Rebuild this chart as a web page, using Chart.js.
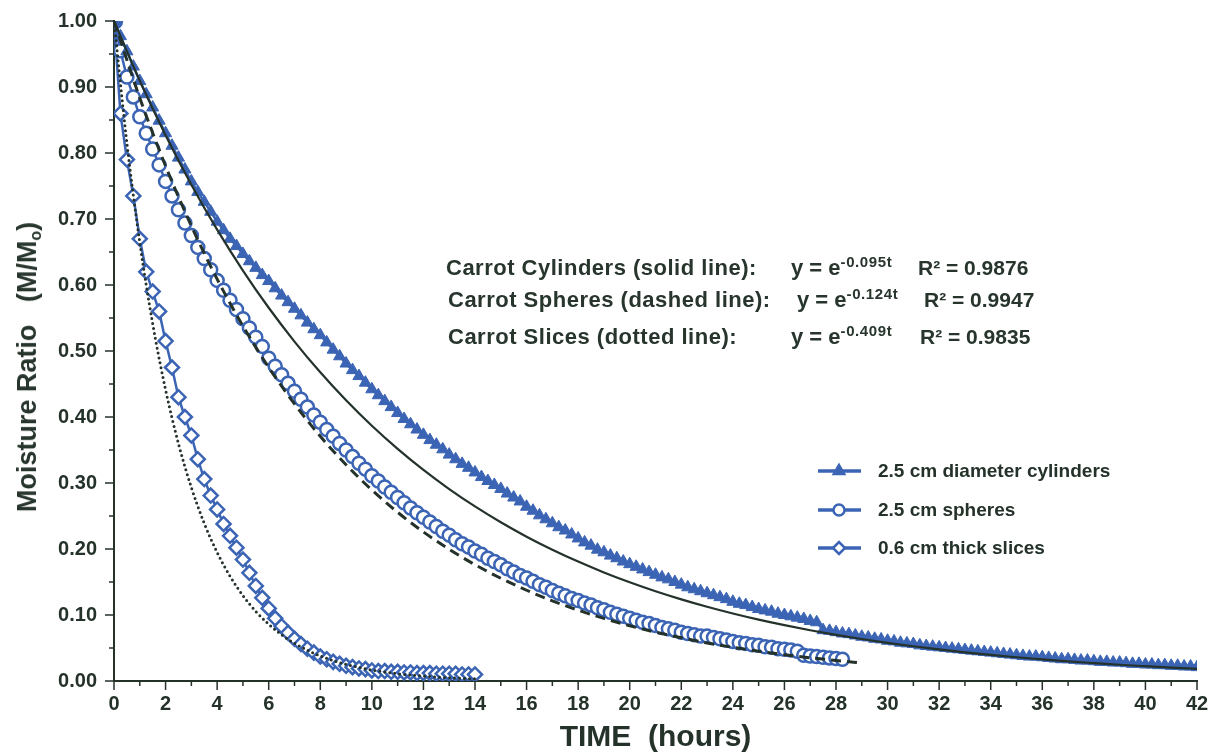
<!DOCTYPE html>
<html>
<head>
<meta charset="utf-8">
<title>Carrot drying curves</title>
<script src="https://cdn.jsdelivr.net/npm/chart.js@4.4.1/dist/chart.umd.min.js"></script>
<style>
  html, body { margin: 0; padding: 0; background: #fff; }
  #wrap { position: relative; width: 1215px; height: 753px; }
  #myChart { position: absolute; left: 0; top: 0; }
  .txt { position: absolute; font-family: "Liberation Sans", Arial, sans-serif; font-weight: bold; color: #27352d; white-space: nowrap; line-height: 24px; }
  .lbl { font-size: 22px; letter-spacing: 0.5px; }
  .eq { font-size: 22px; }
  .eq sup { font-size: 15px; vertical-align: 8px; line-height: 0; letter-spacing: 0.6px; }
  .num { font-size: 21px; }
  #ytitle { font-size: 27px; left: 27px; top: 367px; transform: translate(-50%, -50%) rotate(-90deg); }
  #ytitle sub { font-size: 16px; vertical-align: -5px; line-height: 0; }
</style>
</head>
<body>
<div id="wrap">
  <canvas id="myChart" width="1215" height="753"></canvas>

  <div class="txt" id="ytitle">Moisture Ratio &nbsp;&nbsp;(M/M<sub>o</sub>)</div>

  <div class="txt lbl" style="left:446px; top:256px;">Carrot Cylinders (solid line):</div>
  <div class="txt eq" style="left:791px; top:256px;">y = e<sup>-0.095t</sup></div>
  <div class="txt num" style="left:918px; top:256px;">R² = 0.9876</div>

  <div class="txt lbl" style="left:448px; top:288px;">Carrot Spheres (dashed line):</div>
  <div class="txt eq" style="left:797px; top:288px;">y = e<sup>-0.124t</sup></div>
  <div class="txt num" style="left:924px; top:288px;">R² = 0.9947</div>

  <div class="txt lbl" style="left:448px; top:325px;">Carrot Slices (dotted line):</div>
  <div class="txt eq" style="left:791px; top:325px;">y = e<sup>-0.409t</sup></div>
  <div class="txt num" style="left:920px; top:325px;">R² = 0.9835</div>
</div>

<script>
// readings taken every 15 minutes
const sampleStep = 0.25;

// 2.5 cm diameter cylinders, moisture ratio M/Mo, 0 - 42 h
const cylinderMR = [
  1.000, 0.977, 0.954, 0.931, 0.909, 0.889, 0.869, 0.849,
  0.830, 0.811, 0.793, 0.775, 0.757, 0.741, 0.726, 0.711,
  0.696, 0.683, 0.670, 0.659, 0.647, 0.636, 0.626, 0.615,
  0.606, 0.595, 0.584, 0.574, 0.564, 0.554, 0.543, 0.533,
  0.524, 0.513, 0.502, 0.492, 0.481, 0.471, 0.462, 0.452,
  0.442, 0.433, 0.424, 0.415, 0.406, 0.397, 0.389, 0.381,
  0.373, 0.365, 0.358, 0.351, 0.343, 0.336, 0.329, 0.323,
  0.316, 0.309, 0.303, 0.297, 0.291, 0.284, 0.278, 0.272,
  0.264, 0.258, 0.251, 0.245, 0.239, 0.233, 0.228, 0.222,
  0.216, 0.210, 0.205, 0.199, 0.195, 0.190, 0.186, 0.181,
  0.177, 0.173, 0.169, 0.165, 0.161, 0.157, 0.154, 0.150,
  0.146, 0.142, 0.139, 0.136, 0.133, 0.130, 0.127, 0.124,
  0.120, 0.117, 0.115, 0.112, 0.109, 0.107, 0.105, 0.102,
  0.100, 0.098, 0.096, 0.094, 0.091, 0.089, 0.077, 0.076,
  0.074, 0.072, 0.071, 0.069, 0.067, 0.066, 0.064, 0.063,
  0.061, 0.060, 0.058, 0.057, 0.056, 0.054, 0.053, 0.052,
  0.051, 0.050, 0.049, 0.048, 0.047, 0.046, 0.045, 0.044,
  0.043, 0.042, 0.041, 0.040, 0.039, 0.038, 0.037, 0.037,
  0.036, 0.035, 0.034, 0.033, 0.033, 0.032, 0.031, 0.031,
  0.030, 0.029, 0.029, 0.028, 0.028, 0.027, 0.026, 0.026,
  0.025, 0.025, 0.024, 0.024, 0.023, 0.023, 0.022, 0.022,
  0.021
];

// 2.5 cm spheres, 0 - 28.25 h
const sphereMR = [
  1.000, 0.955, 0.915, 0.885, 0.855, 0.830, 0.806, 0.782,
  0.757, 0.735, 0.714, 0.694, 0.675, 0.657, 0.640, 0.623,
  0.607, 0.592, 0.577, 0.563, 0.549, 0.535, 0.521, 0.507,
  0.489, 0.477, 0.464, 0.451, 0.439, 0.427, 0.415, 0.403,
  0.392, 0.381, 0.371, 0.360, 0.350, 0.340, 0.330, 0.321,
  0.311, 0.303, 0.294, 0.286, 0.278, 0.270, 0.262, 0.255,
  0.248, 0.241, 0.234, 0.227, 0.221, 0.214, 0.208, 0.203,
  0.197, 0.192, 0.186, 0.181, 0.176, 0.170, 0.165, 0.160,
  0.156, 0.151, 0.146, 0.142, 0.137, 0.133, 0.129, 0.125,
  0.122, 0.118, 0.115, 0.111, 0.108, 0.104, 0.101, 0.098,
  0.095, 0.092, 0.089, 0.087, 0.084, 0.081, 0.079, 0.077,
  0.074, 0.072, 0.070, 0.068, 0.068, 0.066, 0.064, 0.062,
  0.060, 0.058, 0.057, 0.055, 0.054, 0.052, 0.051, 0.049,
  0.048, 0.047, 0.045, 0.039, 0.038, 0.037, 0.036, 0.035,
  0.034, 0.033
];

// 0.6 cm thick slices, 0 - 14 h
const sliceMR = [
  1.000, 0.860, 0.790, 0.735, 0.670, 0.620, 0.590, 0.560,
  0.515, 0.475, 0.430, 0.400, 0.372, 0.336, 0.306, 0.281,
  0.260, 0.238, 0.220, 0.202, 0.184, 0.164, 0.144, 0.126,
  0.110, 0.095, 0.083, 0.073, 0.064, 0.056, 0.049, 0.043,
  0.037, 0.033, 0.029, 0.026, 0.023, 0.021, 0.019, 0.018,
  0.016, 0.015, 0.015, 0.014, 0.014, 0.013, 0.013, 0.012,
  0.012, 0.012, 0.011, 0.011, 0.011, 0.011, 0.010, 0.010,
  0.010
];

// fitted curves y = e^(-kt)
const cylinderFitHours = 1;   // hourly values
const cylinderFit = [
  1.0000, 0.9094, 0.8270, 0.7520, 0.6839, 0.6219, 0.5655, 0.5143, 0.4677, 0.4253,
  0.3867, 0.3517, 0.3198, 0.2908, 0.2645, 0.2405, 0.2187, 0.1989, 0.1809, 0.1645,
  0.1496, 0.1360, 0.1237, 0.1125, 0.1023, 0.0930, 0.0846, 0.0769, 0.0699, 0.0636,
  0.0578, 0.0526, 0.0478, 0.0435, 0.0396, 0.0360, 0.0327, 0.0297, 0.0271, 0.0246,
  0.0224, 0.0203, 0.0185
];
const sphereFitHours = 1;
const sphereFit = [
  1.0000, 0.8834, 0.7804, 0.6894, 0.6090, 0.5379, 0.4752, 0.4198, 0.3708, 0.3276,
  0.2894, 0.2556, 0.2258, 0.1995, 0.1762, 0.1557, 0.1375, 0.1215, 0.1073, 0.0948,
  0.0837, 0.0740, 0.0654, 0.0577, 0.0510, 0.0451, 0.0398, 0.0352, 0.0311, 0.0274
];
const sliceFitHours = 0.5;
const sliceFit = [
  1.0000, 0.8151, 0.6643, 0.5415, 0.4413, 0.3597, 0.2932, 0.2390, 0.1948, 0.1588,
  0.1294, 0.1055, 0.0860, 0.0701, 0.0571, 0.0466, 0.0379, 0.0309, 0.0252, 0.0206,
  0.0167, 0.0137, 0.0111, 0.0091, 0.0074, 0.0060, 0.0049, 0.0040, 0.0033
];

const legendLabels = ['2.5 cm diameter cylinders', '2.5 cm spheres', '0.6 cm thick slices'];

const blue = '#3b64b4';
const ink = '#24322a';
const font = '"Liberation Sans", Arial, sans-serif';

function toPoints(values, step) {
  return values.map((v, i) => ({ x: i * step, y: v }));
}

// legend block drawn inside the plot, right side
const sideLegend = {
  id: 'sideLegend',
  afterDatasetsDraw(chart) {
    const ctx = chart.ctx;
    const rows = [
      { y: 471, style: 'triangle', fill: blue, r: 6 },
      { y: 510, style: 'circle', fill: '#fff', r: 5.5 },
      { y: 548, style: 'rectRot', fill: '#fff', r: 6 }
    ];
    ctx.save();
    rows.forEach((r, i) => {
      ctx.strokeStyle = blue;
      ctx.lineWidth = 3.5;
      ctx.beginPath();
      ctx.moveTo(818, r.y);
      ctx.lineTo(861, r.y);
      ctx.stroke();
      ctx.fillStyle = r.fill;
      ctx.lineWidth = 2.5;
      Chart.helpers.drawPoint(ctx, { pointStyle: r.style, radius: r.r, rotation: 0, borderWidth: 2.5 }, 839, r.y);
      ctx.fillStyle = ink;
      ctx.font = 'bold 19px ' + font;
      ctx.textBaseline = 'middle';
      ctx.fillText(legendLabels[i], 878, r.y + 1);
    });
    ctx.restore();
  }
};

// major ticks every 2 h / 0.10, shorter minor ticks between them
const axisTicks = {
  id: 'axisTicks',
  afterDraw(chart) {
    const { ctx, chartArea, scales } = chart;
    ctx.save();
    ctx.strokeStyle = ink;
    ctx.lineWidth = 1.5;
    scales.x.ticks.forEach((t) => {
      const px = scales.x.getPixelForValue(t.value);
      const len = t.value % 2 === 0 ? 9 : 5;
      ctx.beginPath();
      ctx.moveTo(px, chartArea.bottom);
      ctx.lineTo(px, chartArea.bottom + len);
      ctx.stroke();
    });
    scales.y.ticks.forEach((t) => {
      const py = scales.y.getPixelForValue(t.value);
      const len = Math.round(t.value * 100) % 10 === 0 ? 9 : 5;
      ctx.beginPath();
      ctx.moveTo(chartArea.left, py);
      ctx.lineTo(chartArea.left - len, py);
      ctx.stroke();
    });
    ctx.restore();
  }
};

const ctx = document.getElementById('myChart');

const myChart = new Chart(ctx, {
  type: 'line',
  data: {
    datasets: [
      {
        label: 'cylinders fit',
        data: toPoints(cylinderFit, cylinderFitHours),
        borderColor: ink,
        borderWidth: 2.2,
        pointRadius: 0,
        cubicInterpolationMode: 'monotone',
        order: 0
      },
      {
        label: 'spheres fit',
        data: toPoints(sphereFit, sphereFitHours),
        borderColor: ink,
        borderWidth: 3,
        borderDash: [10, 6],
        pointRadius: 0,
        cubicInterpolationMode: 'monotone',
        order: 0
      },
      {
        label: 'slices fit',
        data: toPoints(sliceFit, sliceFitHours),
        borderColor: ink,
        borderWidth: 3,
        borderDash: [0, 5],
        borderCapStyle: 'round',
        pointRadius: 0,
        cubicInterpolationMode: 'monotone',
        order: 0
      },
      {
        label: legendLabels[0],
        data: toPoints(cylinderMR, sampleStep),
        borderColor: blue,
        borderWidth: 2.5,
        pointStyle: (c) => c.dataIndex === 0 ? 'circle' : 'triangle',
        pointRadius: (c) => c.dataIndex === 0 ? 8 : 7,
        pointBorderWidth: 1,
        pointBackgroundColor: blue,
        pointBorderColor: blue,
        order: 1
      },
      {
        label: legendLabels[1],
        data: toPoints(sphereMR, sampleStep),
        borderColor: blue,
        borderWidth: 2.5,
        pointStyle: 'circle',
        pointRadius: (c) => c.dataIndex === 0 ? 8 : 6.5,
        pointBorderWidth: 2.5,
        pointBackgroundColor: (c) => c.dataIndex === 0 ? blue : '#fff',
        pointBorderColor: blue,
        order: 1
      },
      {
        label: legendLabels[2],
        data: toPoints(sliceMR, sampleStep),
        borderColor: blue,
        borderWidth: 2.5,
        pointStyle: 'rectRot',
        pointRadius: 7,
        pointBorderWidth: 2.5,
        pointBackgroundColor: '#fff',
        pointBorderColor: blue,
        order: 1
      }
    ]
  },
  options: {
    responsive: false,
    animation: false,
    layout: { padding: { top: 21, right: 18, left: 0, bottom: 0 } },
    plugins: {
      legend: { display: false },
      tooltip: { enabled: false }
    },
    scales: {
      x: {
        type: 'linear',
        min: 0,
        max: 42,
        afterFit(scale) { scale.height = 72; },
        border: { color: ink, width: 2 },
        // tick marks come from the axisTicks plugin; these only reserve the space
        grid: { drawOnChartArea: false, drawTicks: true, tickLength: 9, color: 'rgba(0,0,0,0)' },
        ticks: {
          stepSize: 1,
          autoSkip: false,
          maxRotation: 0,
          padding: 2,
          color: ink,
          font: { family: font, size: 20, weight: 'bold' },
          callback: (v) => v % 2 === 0 ? v : ''
        },
        title: {
          display: true,
          text: 'TIME  (hours)',
          color: ink,
          padding: { top: 0, bottom: 0 },
          font: { family: font, size: 30, weight: 'bold', lineHeight: 1.0 }
        }
      },
      y: {
        min: 0,
        max: 1,
        afterFit(scale) { scale.width = 114; },
        border: { color: ink, width: 2 },
        grid: { drawOnChartArea: false, drawTicks: true, tickLength: 9, color: 'rgba(0,0,0,0)' },
        ticks: {
          stepSize: 0.05,
          autoSkip: false,
          padding: 8,
          color: ink,
          font: { family: font, size: 20, weight: 'bold' },
          callback: (v) => Math.round(v * 100) % 10 === 0 ? v.toFixed(2) : ''
        }
      }
    }
  },
  plugins: [sideLegend, axisTicks]
});
</script>
</body>
</html>
